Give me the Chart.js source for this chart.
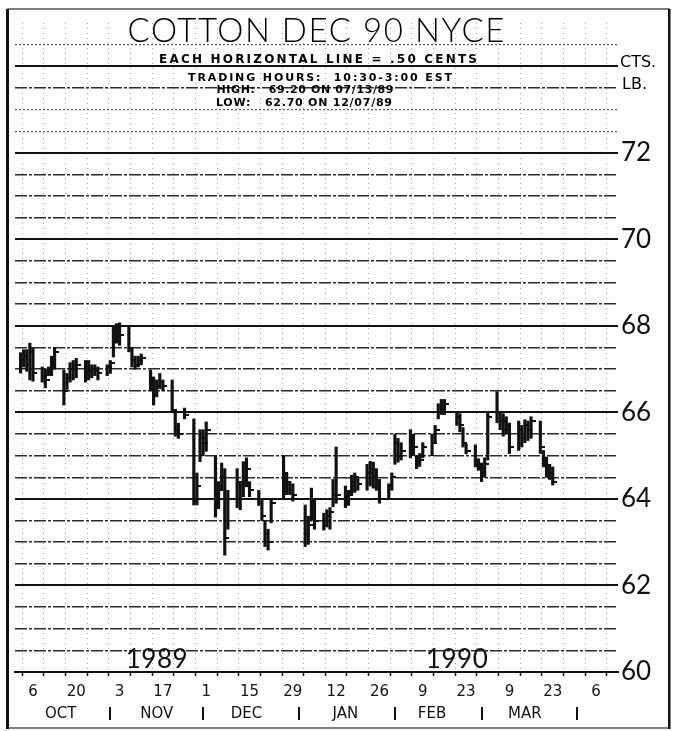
<!DOCTYPE html>
<html>
<head>
<meta charset="utf-8">
<script src="https://cdn.jsdelivr.net/npm/chart.js@4.4.1/dist/chart.umd.min.js"></script>
<style>
  html, body { margin: 0; padding: 0; background: #fff; }
  #wrap { width: 676px; height: 731px; }
</style>
</head>
<body>
<div id="wrap"><canvas id="chart" width="676" height="731"></canvas></div>
<script>
// trading days, one line per week
const dates = [
  '1989-10-02','1989-10-03','1989-10-04','1989-10-05','1989-10-06',
  '1989-10-09','1989-10-10','1989-10-11','1989-10-12','1989-10-13',
  '1989-10-16','1989-10-17','1989-10-18','1989-10-19','1989-10-20',
  '1989-10-23','1989-10-24','1989-10-25','1989-10-26','1989-10-27',
  '1989-10-30','1989-10-31','1989-11-01','1989-11-02','1989-11-03',
  '1989-11-06','1989-11-07','1989-11-08','1989-11-09','1989-11-10',
  '1989-11-13','1989-11-14','1989-11-15','1989-11-16','1989-11-17',
  '1989-11-20','1989-11-21','1989-11-22','1989-11-24',
  '1989-11-27','1989-11-28','1989-11-29','1989-11-30','1989-12-01',
  '1989-12-04','1989-12-05','1989-12-06','1989-12-07','1989-12-08',
  '1989-12-11','1989-12-12','1989-12-13','1989-12-14','1989-12-15',
  '1989-12-18','1989-12-19','1989-12-20','1989-12-21','1989-12-22',
  '1989-12-26','1989-12-27','1989-12-28','1989-12-29',
  '1990-01-02','1990-01-03','1990-01-04','1990-01-05',
  '1990-01-08','1990-01-09','1990-01-10','1990-01-11','1990-01-12',
  '1990-01-15','1990-01-16','1990-01-17','1990-01-18','1990-01-19',
  '1990-01-22','1990-01-23','1990-01-24','1990-01-25','1990-01-26',
  '1990-01-29','1990-01-30','1990-01-31','1990-02-01','1990-02-02',
  '1990-02-05','1990-02-06','1990-02-07','1990-02-08','1990-02-09',
  '1990-02-12','1990-02-13','1990-02-14','1990-02-15','1990-02-16',
  '1990-02-20','1990-02-21','1990-02-22','1990-02-23',
  '1990-02-26','1990-02-27','1990-02-28','1990-03-01','1990-03-02',
  '1990-03-05','1990-03-06','1990-03-07','1990-03-08','1990-03-09',
  '1990-03-12','1990-03-13','1990-03-14','1990-03-15','1990-03-16',
  '1990-03-19','1990-03-20','1990-03-21','1990-03-22','1990-03-23'
];
const highs = [
  67.38, 67.45, 67.45, 67.60, 67.50,
  67.05, 67.00, 67.05, 67.30, 67.50,
  66.98, 66.90, 67.15, 67.20, 67.25,
  67.20, 67.20, 67.10, 67.10, 67.05,
  67.10, 67.20, 67.98, 68.05, 68.07,
  68.00, 67.50, 67.30, 67.30, 67.35,
  66.98, 66.82, 66.75, 66.90, 66.75,
  66.75, 66.00, 65.75, 66.10,
  65.85, 64.60, 65.60, 65.60, 65.78,
  65.00, 64.40, 64.83, 64.70, 64.20,
  64.70, 64.40, 64.86, 64.95, 64.40,
  64.20, 63.97, 63.50, 63.30, 63.97,
  65.00, 64.60, 64.40, 64.35,
  63.86, 63.60, 64.25, 64.00,
  63.67, 63.75, 63.80, 64.45, 65.20,
  64.30, 64.20, 64.55, 64.60, 64.50,
  64.80, 64.87, 64.85, 64.70, 64.45,
  64.35, 64.60, 65.50, 65.40, 65.30,
  65.60, 65.50, 65.00, 65.05, 65.30,
  65.50, 65.70, 66.20, 66.30, 66.30,
  66.00, 65.97, 65.65, 65.27,
  65.25, 64.93, 64.83, 64.95, 66.00,
  66.48, 66.00, 65.97, 65.90, 65.75,
  65.80, 65.70, 65.83, 65.80, 65.90,
  65.80, 65.12, 64.97, 64.80, 64.74
];
const lows = [
  66.91, 67.05, 66.95, 66.75, 66.72,
  66.70, 66.57, 66.85, 66.85, 67.00,
  66.17, 66.53, 66.70, 66.75, 66.80,
  66.70, 66.75, 66.80, 66.85, 66.75,
  66.85, 66.90, 67.28, 67.60, 67.55,
  67.40, 67.05, 67.00, 67.05, 67.10,
  66.50, 66.17, 66.36, 66.55, 66.50,
  66.00, 65.45, 65.40, 65.85,
  63.86, 63.86, 64.86, 65.00, 65.10,
  63.58, 63.80, 64.20, 62.70, 63.30,
  63.80, 63.75, 64.05, 64.28, 64.05,
  63.85, 63.50, 62.90, 62.82, 63.45,
  63.98, 64.10, 64.10, 63.95,
  62.90, 62.95, 63.50, 63.30,
  63.28, 63.35, 63.30, 63.82, 63.90,
  63.80, 63.85, 64.10, 64.15, 64.20,
  64.20, 64.30, 64.25, 64.20, 63.90,
  64.00, 64.20, 64.80, 64.85, 64.90,
  64.95, 65.00, 64.70, 64.75, 64.95,
  65.00, 65.30, 65.85, 65.95, 65.95,
  65.70, 65.55, 65.20, 65.04,
  64.74, 64.66, 64.40, 64.50, 64.90,
  65.76, 65.60, 65.45, 65.50, 65.05,
  65.12, 65.20, 65.30, 65.35, 65.40,
  65.05, 64.74, 64.50, 64.45, 64.32
];
const closes = [
  67.20, 67.30, 67.10, 67.40, 66.90,
  66.85, 66.75, 66.95, 67.20, 67.40,
  66.50, 66.80, 67.00, 67.10, 67.10,
  67.00, 66.95, 67.00, 66.95, 66.90,
  67.05, 67.15, 67.80, 67.90, 67.80,
  67.50, 67.20, 67.10, 67.20, 67.25,
  66.70, 66.40, 66.60, 66.70, 66.60,
  66.05, 65.60, 65.50, 65.95,
  63.95, 64.30, 65.40, 65.30, 65.60,
  63.80, 64.20, 64.50, 63.10, 64.00,
  64.40, 64.00, 64.50, 64.70, 64.20,
  64.00, 63.60, 63.20, 63.00, 63.90,
  64.60, 64.40, 64.20, 64.10,
  63.20, 63.40, 64.00, 63.50,
  63.40, 63.60, 63.70, 64.10, 64.10,
  64.00, 64.10, 64.40, 64.50, 64.35,
  64.60, 64.70, 64.50, 64.30, 64.00,
  64.30, 64.50, 65.30, 65.00, 65.10,
  65.40, 65.20, 64.85, 64.90, 65.20,
  65.30, 65.60, 66.00, 66.10, 66.20,
  65.90, 65.70, 65.30, 65.10,
  64.90, 64.80, 64.60, 64.80, 65.90,
  66.00, 65.80, 65.60, 65.70, 65.20,
  65.60, 65.40, 65.70, 65.60, 65.80,
  65.20, 64.90, 64.70, 64.60, 64.40
];

// every other friday gets a day number, starting 6 oct 1989
const tickLabels = ['6','20','3','17','1','15','29','12','26','9','23','9','23','6'];
const priceLabels = [60, 62, 64, 66, 68, 70, 72];
const months = ['OCT', 'NOV', 'DEC', 'JAN', 'FEB', 'MAR'];
const monthMid = ['1989-10-15','1989-11-15','1989-12-14','1990-01-15','1990-02-12','1990-03-14'];
const monthEnds = ['1989-10-31','1989-11-30','1989-12-31','1990-01-31','1990-02-28','1990-03-31'];
const years = [['1989', '1989-11-15'], ['1990', '1990-02-20']];

// days counted from friday 6 oct 1989
function dayOf(s) {
    const [y, m, d] = s.split('-').map(Number);
    return (Date.UTC(y, m - 1, d) - Date.UTC(1989, 9, 6)) / 864e5;
}
const days = dates.map(dayOf);

// little tick to the right of each bar for the close
const closeMark = document.createElement('canvas');
closeMark.width = 9;
closeMark.height = 2;
const cm = closeMark.getContext('2d');
cm.fillStyle = '#111';
cm.fillRect(5, 0, 4, 2);

function spaced(ctx, text, x, y, font, width) {
    ctx.font = font;
    ctx.letterSpacing = '0px';
    const w = ctx.measureText(text).width;
    const sp = (width - w) / Math.max(1, text.length - 1);
    ctx.letterSpacing = sp + 'px';
    ctx.textAlign = 'left';
    ctx.fillText(text, x - width / 2, y);
    ctx.letterSpacing = '0px';
}

const paper = {
    id: 'paper',
    beforeDraw(chart) {
        const ctx = chart.ctx;
        ctx.save();
        ctx.fillStyle = '#fff';
        ctx.fillRect(0, 0, chart.width, chart.height);
        ctx.restore();
    },
    afterDraw(chart) {
        const ctx = chart.ctx;
        const xs = chart.scales.x, ys = chart.scales.y;
        ctx.save();
        // frame
        ctx.strokeStyle = '#555';
        ctx.lineWidth = 1.5;
        ctx.strokeRect(8, 9, 661, 719);
        ctx.fillStyle = '#111';
        ctx.fillRect(6, 9, 3, 720);
        ctx.fillRect(668, 9, 2.5, 720);

        ctx.fillStyle = '#000';
        ctx.textBaseline = 'alphabetic';
        spaced(ctx, 'COTTON DEC 90 NYCE', 316, ys.getPixelForValue(74.55), '300 33px Lato', 377);
        spaced(ctx, 'EACH HORIZONTAL LINE = .50 CENTS', 318, ys.getPixelForValue(74.08), 'bold 12px "DejaVu Sans"', 318);
        spaced(ctx, 'TRADING HOURS:  10:30-3:00 EST', 320, ys.getPixelForValue(73.67), 'bold 11px "DejaVu Sans"', 264);
        spaced(ctx, 'HIGH:   69.20 ON 07/13/89', 305, ys.getPixelForValue(73.38), 'bold 11px "DejaVu Sans"', 177);
        spaced(ctx, 'LOW:   62.70 ON 12/07/89', 304, ys.getPixelForValue(73.08), 'bold 11px "DejaVu Sans"', 176);

        ctx.font = '16px "DejaVu Sans"';
        ctx.textAlign = 'left';
        ctx.fillText('CTS.', 620, ys.getPixelForValue(74) + 1);
        ctx.fillText('LB.', 622, ys.getPixelForValue(73.5) + 1);

        // year marks
        ctx.fillStyle = '#111';
        years.forEach(([t, d]) => {
            spaced(ctx, t, xs.getPixelForValue(dayOf(d)), ys.getPixelForValue(60.1), '26px Lato', 62);
        });

        // month row
        ctx.font = '15px "DejaVu Sans"';
        ctx.textAlign = 'center';
        ctx.textBaseline = 'middle';
        months.forEach((m, i) => ctx.fillText(m, xs.getPixelForValue(dayOf(monthMid[i])), 714));
        monthEnds.forEach(d => {
            const px = Math.round(xs.getPixelForValue(dayOf(d)));
            ctx.fillRect(px - 1, 707, 2, 13);
        });
        ctx.restore();
    }
};

function lineStyle(v) {
    if (v >= 75) return { color: 'rgba(0,0,0,0)', width: 0, dash: [] };
    if (v % 2 === 0) return { color: '#111', width: 2, dash: [] };
    if (v >= 72.5 && v !== 73.5) return { color: '#555', width: 1.2, dash: [2, 2] };
    return { color: '#2a2a2a', width: 1.5, dash: [12, 2, 3, 2] };
}

const ctx = document.getElementById('chart').getContext('2d');
const chart = new Chart(ctx, {
    type: 'bar',
    data: {
        datasets: [{
            type: 'bar',
            data: days.map((d, i) => ({ x: d, y: [lows[i], highs[i]] })),
            backgroundColor: '#111',
            barThickness: 2.5,
            grouped: false,
            order: 2
        }, {
            type: 'scatter',
            data: days.map((d, i) => ({ x: d, y: closes[i] })),
            pointStyle: closeMark,
            pointRadius: 4,
            showLine: false,
            order: 1
        }]
    },
    options: {
        responsive: false,
        animation: false,
        devicePixelRatio: 1,
        layout: { padding: { left: 15, top: 23, right: 0, bottom: 0 } },
        plugins: {
            legend: { display: false },
            tooltip: { enabled: false },
            title: { display: false }
        },
        scales: {
            x: {
                type: 'linear',
                min: -5.8,
                max: 189.1,
                offset: false,
                afterBuildTicks: s => {
                    const t = [];
                    for (let d = 0; d <= 189; d += 7) t.push({ value: d });
                    s.ticks = t;
                },
                afterFit: s => { s.height = 59; },
                ticks: {
                    autoSkip: false,
                    maxRotation: 0,
                    padding: 7,
                    color: '#111',
                    font: { family: 'DejaVu Sans', size: 15 },
                    callback: v => (v % 14 === 0 ? tickLabels[v / 14] : '')
                },
                grid: {
                    color: 'rgba(0,0,0,0.35)',
                    lineWidth: 1,
                    drawTicks: true,
                    tickLength: 4,
                    tickColor: '#111',
                    tickWidth: 1.5,
                    tickBorderDash: []
                },
                border: { display: true, color: '#111', width: 2, dash: [1, 4] }
            },
            y: {
                position: 'right',
                min: 60,
                max: 75,
                afterFit: s => { s.width = 58; },
                ticks: {
                    stepSize: 0.5,
                    autoSkip: false,
                    padding: 3,
                    color: '#111',
                    font: { family: 'Lato', size: 26, weight: 'normal' },
                    callback: v => (priceLabels.includes(v) ? String(v) : '')
                },
                grid: {
                    drawTicks: false,
                    color: c => lineStyle(c.tick ? c.tick.value : 60).color,
                    lineWidth: c => lineStyle(c.tick ? c.tick.value : 60).width
                },
                border: {
                    display: false,
                    dash: c => lineStyle(c.tick ? c.tick.value : 60).dash
                }
            }
        }
    },
    plugins: [paper]
});
</script>
</body>
</html>
